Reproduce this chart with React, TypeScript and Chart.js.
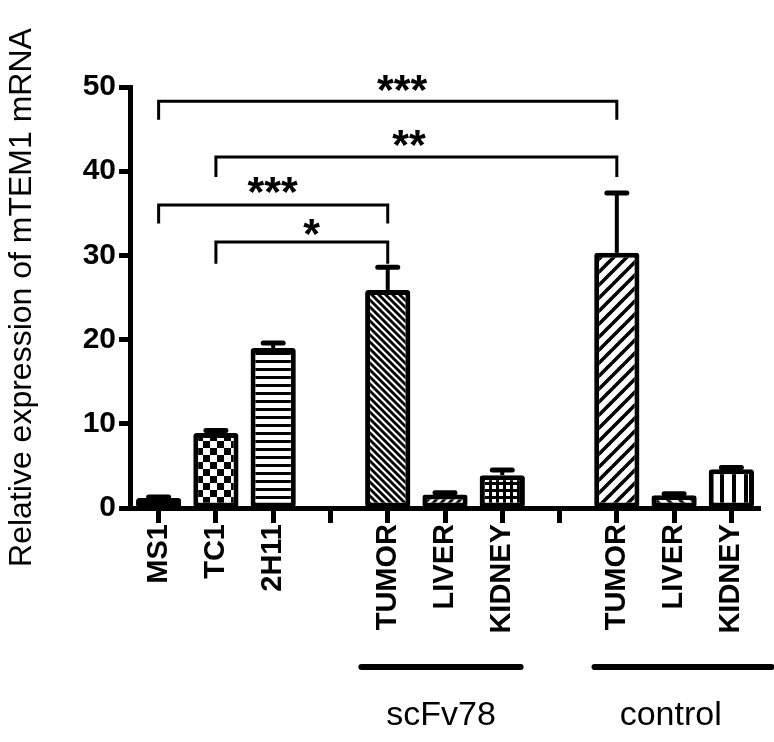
import React, { useEffect, useRef } from 'react';
import { Chart, registerables } from 'chart.js';

Chart.register(...registerables);

// ---------- data ----------
const categories = ['MS1', 'TC1', '2H11', '', 'TUMOR', 'LIVER', 'KIDNEY', '', 'TUMOR', 'LIVER', 'KIDNEY'];
const means: (number | null)[] = [1.2, 8.9, 19.0, null, 25.9, 1.6, 3.9, null, 30.3, 1.5, 4.6];
const errors: (number | null)[] = [0.1, 0.3, 0.6, null, 2.7, 0.2, 0.6, null, 7.1, 0.2, 0.2];
const patternKinds: (string | null)[] = ['dash', 'checker', 'hstripe', null, 'backslash', 'slash', 'grid', null, 'slashWide', 'backslashSparse', 'vstripe'];
const yTickValues = [0, 10, 20, 30, 40, 50];

const groupNames = ['scFv78', 'control'];
const groupStart = [3.54, 7.61];
const groupEnd = [6.32, 10.7];
const groupLabelX = [4.93, 8.94];

const bracketFrom = [0, 1, 0, 1];
const bracketTo = [8, 8, 4, 4];
const bracketTop = [48.3, 41.7, 36.0, 31.6];
const bracketFoot = [46.1, 39.3, 33.8, 29.0];
const bracketLabel = ['***', '**', '***', '*'];
const bracketLabelX = [4.25, 4.37, 1.99, 2.67];
const bracketLabelY = [50.5, 43.9, 38.4, 33.4];

const FONT = '"Liberation Sans", Arial, Helvetica, sans-serif';

function makePattern(kind: string | null): CanvasPattern | string {
  if (!kind) return '#fff';
  const c = document.createElement('canvas');
  const draw = (fn: (g: CanvasRenderingContext2D, s: number) => void, size: number) => {
    c.width = size;
    c.height = size;
    const g = c.getContext('2d')!;
    g.fillStyle = '#fff';
    g.fillRect(0, 0, size, size);
    g.fillStyle = '#000';
    g.strokeStyle = '#000';
    fn(g, size);
  };
  const diag = (g: CanvasRenderingContext2D, size: number, lw: number, back: boolean) => {
    g.lineWidth = lw;
    for (let k = -1; k <= 1; k++) {
      g.beginPath();
      if (back) {
        g.moveTo(k * size - 1, -1);
        g.lineTo(k * size + size + 1, size + 1);
      } else {
        g.moveTo(k * size - 1, size + 1);
        g.lineTo(k * size + size + 1, -1);
      }
      g.stroke();
    }
  };
  switch (kind) {
    case 'dash':
      draw((g) => { g.fillRect(1, 3, 4, 2); }, 7);
      break;
    case 'checker':
      draw((g, z) => { g.fillRect(0, 0, z / 2, z / 2); g.fillRect(z / 2, z / 2, z / 2, z / 2); }, 14);
      break;
    case 'hstripe':
      draw((g, z) => { g.fillRect(0, 0, z, 3); }, 8);
      break;
    case 'backslash':
      draw((g, z) => diag(g, z, 2.8, true), 7);
      break;
    case 'slash':
      draw((g, z) => diag(g, z, 2.8, false), 8);
      break;
    case 'slashWide':
      draw((g, z) => diag(g, z, 3.6, false), 13);
      break;
    case 'backslashSparse':
      draw((g, z) => diag(g, z, 3.2, true), 12);
      break;
    case 'grid':
      draw((g, z) => { g.fillRect(0, 0, z, z); g.fillStyle = '#fff'; g.fillRect(2, 2, 4, 4); }, 7);
      break;
    case 'vstripe':
      draw((g, z) => { g.fillRect(0, 0, 4, z); }, 12);
      break;
  }
  const ctx = c.getContext('2d')!;
  return ctx.createPattern(c, 'repeat') || '#fff';
}

const annotationPlugin = {
  id: 'annotations',
  afterDatasetsDraw(chart: any) {
    const { ctx } = chart;
    const ys = chart.scales.y;
    const meta = chart.getDatasetMeta(0);
    ctx.save();
    ctx.strokeStyle = '#000';
    // error bars (upper only)
    means.forEach((m, i) => {
      const e = errors[i];
      if (m == null || e == null) return;
      const x = meta.data[i].x;
      const yTop = ys.getPixelForValue(m);
      const yErr = ys.getPixelForValue(m + e);
      ctx.lineCap = 'butt';
      ctx.lineWidth = 4;
      ctx.beginPath();
      ctx.moveTo(x, yTop);
      ctx.lineTo(x, yErr);
      ctx.stroke();
      ctx.lineCap = 'round';
      ctx.lineWidth = 5;
      ctx.beginPath();
      ctx.moveTo(x - 10, yErr);
      ctx.lineTo(x + 10, yErr);
      ctx.stroke();
    });
    ctx.restore();
  },
  afterDraw(chart: any) {
    const { ctx } = chart;
    const xs = chart.scales.x;
    const ys = chart.scales.y;
    ctx.save();
    ctx.strokeStyle = '#000';
    ctx.fillStyle = '#000';
    // significance brackets
    bracketFrom.forEach((f, i) => {
      const x1 = xs.getPixelForValue(f);
      const x2 = xs.getPixelForValue(bracketTo[i]);
      const yT = ys.getPixelForValue(bracketTop[i]);
      const yF = ys.getPixelForValue(bracketFoot[i]);
      ctx.lineWidth = 3;
      ctx.lineCap = 'butt';
      ctx.lineJoin = 'miter';
      ctx.beginPath();
      ctx.moveTo(x1, yF);
      ctx.lineTo(x1, yT);
      ctx.lineTo(x2, yT);
      ctx.lineTo(x2, yF);
      ctx.stroke();
      ctx.font = `bold 43px ${FONT}`;
      ctx.textAlign = 'center';
      ctx.textBaseline = 'alphabetic';
      const mt = ctx.measureText(bracketLabel[i]);
      const lx = xs.getPixelForValue(bracketLabelX[i]);
      const ly = ys.getPixelForValue(bracketLabelY[i]);
      const base = ly + (mt.actualBoundingBoxAscent - mt.actualBoundingBoxDescent) / 2;
      ctx.fillText(bracketLabel[i], lx, base);
    });
    // group lines and names
    groupNames.forEach((name, i) => {
      const x1 = xs.getPixelForValue(groupStart[i]);
      const x2 = xs.getPixelForValue(groupEnd[i]);
      const yLine = xs.bottom - 75;
      ctx.lineWidth = 6;
      ctx.lineCap = 'round';
      ctx.beginPath();
      ctx.moveTo(x1, yLine);
      ctx.lineTo(x2, yLine);
      ctx.stroke();
      ctx.font = `34px ${FONT}`;
      ctx.textAlign = 'center';
      ctx.textBaseline = 'middle';
      ctx.fillText(name, xs.getPixelForValue(groupLabelX[i]), xs.bottom - 26);
    });
    ctx.restore();
  },
};

export default function App() {
  const ref = useRef<HTMLCanvasElement | null>(null);
  useEffect(() => {
    if (!ref.current) return;
    const bg = patternKinds.map((k) => makePattern(k));
    const chart = new Chart(ref.current, {
      type: 'bar',
      data: {
        labels: categories,
        datasets: [
          {
            data: means as any,
            backgroundColor: bg as any,
            borderColor: '#000',
            borderWidth: 5,
            borderSkipped: false,
            borderRadius: 3,
            barPercentage: 0.79,
            categoryPercentage: 1,
          },
        ],
      },
      options: {
        responsive: false,
        animation: false,
        devicePixelRatio: 1,
        layout: { padding: { top: 87, right: 14, left: 0, bottom: 0 } },
        plugins: { legend: { display: false }, tooltip: { enabled: false } },
        scales: {
          x: {
            type: 'category',
            offset: true,
            afterFit: (s: any) => { s.height = 234; },
            grid: {
              display: true,
              offset: false,
              drawOnChartArea: false,
              drawTicks: true,
              tickLength: 15,
              tickWidth: 5,
              tickColor: '#000',
              color: '#000',
            },
            border: { display: true, width: 5, color: '#000' },
            ticks: {
              autoSkip: false,
              maxRotation: 90,
              minRotation: 90,
              color: '#000',
              padding: 1,
              font: { family: FONT, size: 29, weight: 'bold' },
            },
          },
          y: {
            min: 0,
            max: 50,
            afterFit: (s: any) => { s.width = 130; },
            afterBuildTicks: (s: any) => { s.ticks = yTickValues.map((v) => ({ value: v })); },
            grid: {
              display: true,
              drawOnChartArea: false,
              drawTicks: true,
              tickLength: 11,
              tickWidth: 5,
              tickColor: '#000',
              color: '#000',
            },
            border: { display: true, width: 5, color: '#000' },
            ticks: {
              color: '#000',
              padding: 3,
              font: { family: FONT, size: 30, weight: 'bold' },
            },
            title: {
              display: true,
              text: 'Relative expression of mTEM1 mRNA',
              color: '#000',
              padding: { top: 3, bottom: 0 },
              font: { family: FONT, size: 32, weight: 'normal' },
            },
          },
        },
      },
      plugins: [annotationPlugin],
    });
    return () => chart.destroy();
  }, []);
  return (
    <div style={{ position: 'absolute', left: 0, top: 0, width: 774, height: 742, background: '#fff' }}>
      <canvas ref={ref} width={774} height={742} />
    </div>
  );
}
